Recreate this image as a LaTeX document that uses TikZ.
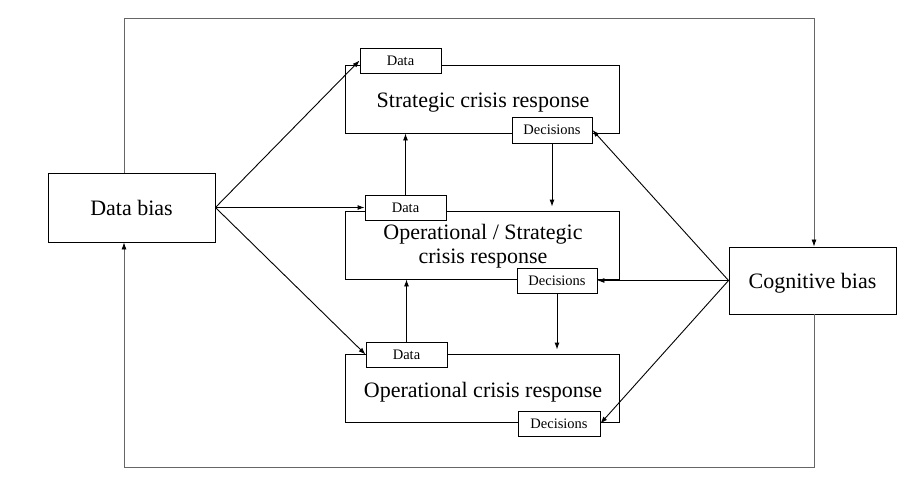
\documentclass[tikz,border=0pt]{standalone}
\usepackage{fontspec}
\setmainfont{Liberation Serif}
\usetikzlibrary{arrows.meta}
\tikzset{
  bigbox/.style={draw, line width=0.9pt, inner sep=0pt, minimum width=274pt, minimum height=68pt},
  biasbox/.style={draw, line width=0.9pt, inner sep=0pt, minimum width=167pt, minimum height=68pt,
     font=\fontsize{22}{24}\selectfont, text height=15pt, text depth=0pt},
  smallbox/.style={draw, fill=white, line width=0.9pt, inner sep=0pt, minimum height=25pt,
     font=\fontsize{14.5}{16}\selectfont},
  bigtext/.style={inner sep=0pt, font=\fontsize{22}{23.5}\selectfont},
  arr/.style={line width=0.9pt, -{Latex[length=7pt,width=5pt]}},
  frame/.style={draw=black!60, line width=0.8pt, -{Latex[length=7pt,width=5pt,black]}},
}
\begin{document}
\begin{tikzpicture}[x=1pt,y=-1pt]
\useasboundingbox (0,0) rectangle (917,479);
% main boxes
\node[bigbox] (strat) at (482,99) {};
\node[bigbox] (mid) at (482,245) {};
\node[bigbox] (oper) at (482,388) {};
\node[bigtext, anchor=base] (stext) at (483,107) {Strategic crisis response};
\node[bigtext, align=center] (mtext) at (483,246) {Operational / Strategic\\crisis response};
\node[bigtext, anchor=base] (otext) at (483,397) {Operational crisis response};
% small boxes
\node[smallbox, minimum width=81pt] (sdata) at (400.5,60.5) {Data};
\node[smallbox, minimum width=81pt] (mdata) at (405.5,207.5) {Data};
\node[smallbox, minimum width=81pt] (odata) at (406.5,354.5) {Data};
\node[smallbox, minimum width=80pt, minimum height=26pt] (sdec) at (552,130) {Decisions};
\node[smallbox, minimum width=80pt] (mdec) at (557,280.5) {Decisions};
\node[smallbox, minimum width=82pt] (odec) at (559,423.5) {Decisions};
% bias boxes
\node[biasbox, minimum height=69pt] (db) at (131.5,207.5) {Data bias};
\node[biasbox, minimum height=67pt] (cb) at (812.5,280.5) {Cognitive bias};
% frame
\coordinate (tl) at (124,18);
\coordinate (tr) at (814,18);
\coordinate (br) at (814,467);
\coordinate (bl) at (124,467);
\draw[frame] (tl |- db.north) -- (tl) -- (tr) -- (tr |- cb.north);
\draw[frame] (br |- cb.south) -- (br) -- (bl) -- (bl |- db.south);
% data bias arrows
\draw[arr] (db.east) -- (sdata.west);
\draw[arr] (db.east) -- (mdata.west);
\draw[arr] (db.east) -- (odata.west);
% upward data arrows
\draw[arr] (mdata.north) -- (mdata.north |- strat.south);
\draw[arr] (odata.north) -- (odata.north |- mid.south);
% downward decision arrows
\draw[arr, shorten >=4pt] (sdec.south) -- (sdec.south |- mid.north);
\draw[arr, shorten >=4pt] (mdec.south) -- (mdec.south |- oper.north);
% cognitive bias arrows
\draw[arr] (cb.west) -- (sdec.east);
\draw[arr] (cb.west) -- (mdec.east);
\draw[arr] (cb.west) -- (odec.east);
\end{tikzpicture}
\end{document}
